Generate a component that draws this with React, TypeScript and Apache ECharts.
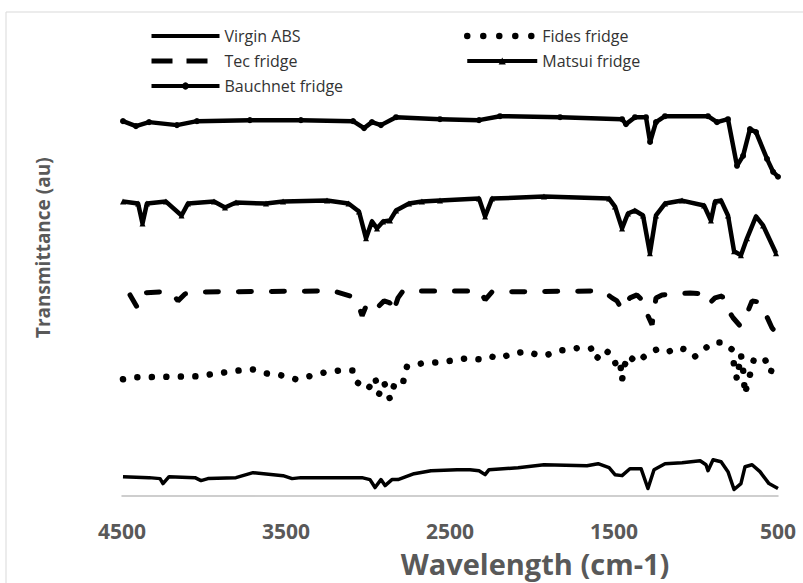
import React, { useEffect, useRef } from "react";
import * as echarts from "echarts";

// Wavenumber ticks (cm-1), axis is reversed
const xTicks = [4500, 3500, 2500, 1500, 500];

// [wavenumber, transmittance (au, offset)]
const virginABS: [number, number][] = [
  [4494, 4.75], [4335, 4.5], [4268, 4.25], [4250, 3], [4213, 4.75], [4055, 4.5], [4018, 3.75],
  [3976, 4.25], [3805, 4.5], [3701, 5.75], [3518, 5], [3463, 4.25], [3409, 4.5], [3037, 4.5],
  [2988, 4], [2957, 2], [2921, 4], [2896, 2.5], [2854, 4], [2817, 4], [2719, 5.5], [2616, 6.25],
  [2457, 6.5], [2378, 6.5], [2323, 6.25], [2286, 5.25], [2262, 6.5], [2085, 7], [1927, 7.75],
  [1665, 7.5], [1597, 8], [1530, 7], [1494, 5.25], [1451, 5], [1403, 6.75], [1335, 6.75],
  [1293, 1.75], [1256, 6.5], [1189, 8], [1085, 8.25], [975, 8.75], [939, 7.75], [927, 6.25],
  [896, 9], [847, 8.5], [805, 6], [768, 1.5], [726, 3], [701, 7.25], [658, 7.75], [610, 6],
  [555, 3], [500, 1.75],
];

const fidesFridge: [number, number][] = [
  [4494, 29.25], [4415, 29.75], [4043, 30], [3872, 31], [3780, 31.5], [3701, 31.75], [3622, 30.75],
  [3530, 30.25], [3439, 29.25], [3360, 30], [3262, 31], [3171, 31.5], [3091, 31.5], [3067, 28.5],
  [3000, 26.75], [2957, 29.75], [2933, 25.5], [2902, 28.5], [2866, 24.25], [2841, 27.75],
  [2787, 27.75], [2780, 30.25], [2762, 32.5], [2671, 33.25], [2579, 33.5], [2482, 34], [2402, 34.5],
  [2311, 34.25], [2250, 35], [2195, 34.5], [2122, 35.75], [2030, 36.25], [1957, 35.25], [1902, 35.5],
  [1835, 36.5], [1768, 36.75], [1707, 37.25], [1640, 37], [1610, 34.25], [1561, 36.75], [1506, 35.25],
  [1488, 32.75], [1463, 33.75], [1451, 29], [1439, 32.25], [1415, 35.25], [1360, 33.5], [1293, 35.75],
  [1226, 37], [1165, 36.25], [1110, 37.25], [1043, 36.5], [1006, 35], [963, 36.5], [896, 38.5],
  [829, 38.5], [780, 36.75], [768, 32.75], [750, 29.25], [726, 35.5], [713, 31.75], [701, 25.5],
  [689, 27.75], [665, 31.25], [646, 34.5], [579, 34.25], [543, 31], [530, 33.75],
];

const tecFridge: [number, number][] = [
  [4451, 50.5], [4409, 47.5], [4378, 51], [4268, 51.25], [4195, 51], [4159, 49], [4116, 50.75],
  [4024, 51.25], [3213, 51.5], [3110, 50.25], [3067, 49], [3036, 45.25], [3006, 48.25], [2976, 48.5],
  [2945, 47.25], [2902, 49], [2866, 48.5], [2848, 46], [2817, 49.75], [2787, 51.5], [2317, 51.5],
  [2286, 49.25], [2244, 51.25], [1585, 51.5], [1543, 50.75], [1512, 49.75], [1482, 49], [1451, 46.75],
  [1403, 49.75], [1360, 50.5], [1323, 49], [1293, 45.25], [1268, 43], [1244, 49.75], [1207, 50.5],
  [1036, 51], [945, 50.75], [915, 48.5], [884, 49.75], [841, 50.25], [805, 46.75], [774, 44.75],
  [732, 42.75], [695, 45.25], [658, 49], [622, 48.75], [579, 46], [537, 42.25], [500, 40.25],
];

const matsuiFridge: [number, number][] = [
  [4494, 74], [4402, 73.5], [4375, 68.5], [4348, 73.5], [4232, 74], [4137, 70.5], [4098, 73.5],
  [3939, 74], [3872, 72.5], [3805, 73.75], [3622, 73.5], [3518, 74], [3250, 74.25], [3119, 73.5],
  [3055, 71.5], [3012, 64.75], [2976, 69], [2945, 67.25], [2908, 69], [2866, 69.25], [2829, 71.75],
  [2750, 73.5], [2671, 74], [2561, 74.25], [2323, 74.75], [2286, 70.25], [2244, 74.75], [1927, 75.25],
  [1530, 74.75], [1494, 72.75], [1451, 67.25], [1415, 71], [1373, 71.75], [1323, 70.5], [1281, 61],
  [1244, 70.5], [1189, 73.5], [1085, 74.25], [951, 73], [909, 69.25], [884, 74], [847, 74.25],
  [805, 70.5], [768, 61.5], [726, 60.5], [689, 64.75], [634, 70.25], [591, 68], [512, 61],
];

const bauchnetFridge: [number, number][] = [
  [4494, 94.25], [4415, 93], [4335, 94], [4165, 93.25], [4043, 94.25], [3720, 94.5], [3409, 94.5],
  [3091, 94.25], [3024, 92.5], [2976, 94], [2921, 93.25], [2829, 95.25], [2561, 94.75], [2323, 94.5],
  [2195, 95.5], [1829, 95.25], [1451, 94.75], [1427, 93.5], [1372, 95.25], [1305, 95.25], [1280, 89],
  [1244, 94], [1189, 95.5], [927, 95.5], [872, 94], [805, 94.75], [750, 83], [713, 85.5], [671, 92.25],
  [634, 91.5], [567, 84.75], [530, 81.5], [500, 80.25],
];

const FONT = "'Open Sans', 'DejaVu Sans', sans-serif";

export default function App() {
  const ref = useRef<HTMLDivElement>(null);
  useEffect(() => {
    if (!ref.current) return;
    const chart = echarts.init(ref.current, null, { renderer: "svg" });
    const black = "#000000";
    const legendText = { fontFamily: FONT, fontSize: 16, color: "#333333", lineHeight: 16 };
    chart.setOption({
      animation: false,
      backgroundColor: "#ffffff",
      graphic: [
        {
          type: "rect",
          shape: { x: 6, y: 12, width: 1000, height: 1000 },
          style: { fill: "none", stroke: "#d9d9d9", lineWidth: 1 },
          silent: true,
          z: -1,
        },
      ],
      grid: { left: 122, right: 25, top: 0, bottom: 84 },
      legend: [
        {
          orient: "vertical",
          left: 149,
          top: 28,
          padding: 0,
          itemWidth: 68,
          itemHeight: 9,
          itemGap: 9,
          textStyle: legendText,
          data: [
            { name: "Virgin ABS", itemStyle: { opacity: 0 }, lineStyle: { width: 4 } },
            { name: "Tec fridge", itemStyle: { opacity: 0 }, lineStyle: { type: [21, 14], cap: "butt", width: 5 } },
            { name: "Bauchnet fridge", lineStyle: { width: 4 } },
          ],
        },
        {
          orient: "vertical",
          left: 464,
          top: 28,
          padding: 0,
          itemWidth: 70,
          itemHeight: 9,
          itemGap: 9,
          textStyle: legendText,
          data: [
            { name: "Fides fridge", itemStyle: { opacity: 0 }, lineStyle: { type: [0.01, 16], cap: "round", width: 6.5 } },
            { name: "Matsui fridge", lineStyle: { width: 4 } },
          ],
        },
      ],
      xAxis: {
        type: "value",
        min: 500,
        max: 4500,
        inverse: true,
        axisLine: { show: true, lineStyle: { color: "#bfbfbf", width: 1.5 } },
        axisTick: { show: false },
        splitLine: { show: false },
        axisLabel: {
          customValues: xTicks,
          formatter: (v: number) => String(v),
          margin: 25,
          fontFamily: FONT,
          fontWeight: "bold",
          fontSize: 21,
          lineHeight: 20,
          color: "#595959",
        },
        name: "Wavelength (cm-1)",
        nameLocation: "middle",
        nameGap: 55,
        nameTextStyle: {
          fontFamily: FONT,
          fontWeight: "bold",
          fontSize: 29,
          lineHeight: 26,
          color: "#595959",
          padding: [0, 0, 0, 170],
        },
      },
      yAxis: {
        type: "value",
        min: 0,
        max: 124.75,
        axisLine: { show: false },
        axisTick: { show: false },
        axisLabel: { show: false },
        splitLine: { show: false },
        name: "Transmittance (au)",
        nameLocation: "middle",
        nameRotate: 90,
        nameGap: 70,
        nameTextStyle: { fontFamily: FONT, fontWeight: "bold", fontSize: 19, color: "#595959" },
      },
      series: [
        {
          name: "Virgin ABS",
          type: "line",
          data: virginABS,
          symbol: "none",
          color: black,
          lineStyle: { color: black, width: 3.5, join: "round" },
        },
        {
          name: "Fides fridge",
          type: "line",
          data: fidesFridge,
          symbol: "none",
          color: black,
          lineStyle: { color: black, width: 6.5, type: [0.01, 14.5], cap: "round" },
        },
        {
          name: "Tec fridge",
          type: "line",
          data: tecFridge,
          symbol: "none",
          color: black,
          lineStyle: { color: black, width: 5, type: [13, 20], cap: "round" },
        },
        {
          name: "Matsui fridge",
          type: "line",
          data: matsuiFridge,
          symbol: "triangle",
          symbolSize: 6,
          showSymbol: true,
          color: black,
          itemStyle: { color: black },
          lineStyle: { color: black, width: 4.5, join: "round" },
        },
        {
          name: "Bauchnet fridge",
          type: "line",
          data: bauchnetFridge,
          symbol: "circle",
          symbolSize: 6,
          showSymbol: true,
          color: black,
          itemStyle: { color: black },
          lineStyle: { color: black, width: 4.5, join: "round" },
        },
      ],
    });
    return () => chart.dispose();
  }, []);
  return (
    <div
      ref={ref}
      style={{ position: "fixed", left: 0, top: 0, width: 803, height: 583, background: "#fff" }}
    />
  );
}
